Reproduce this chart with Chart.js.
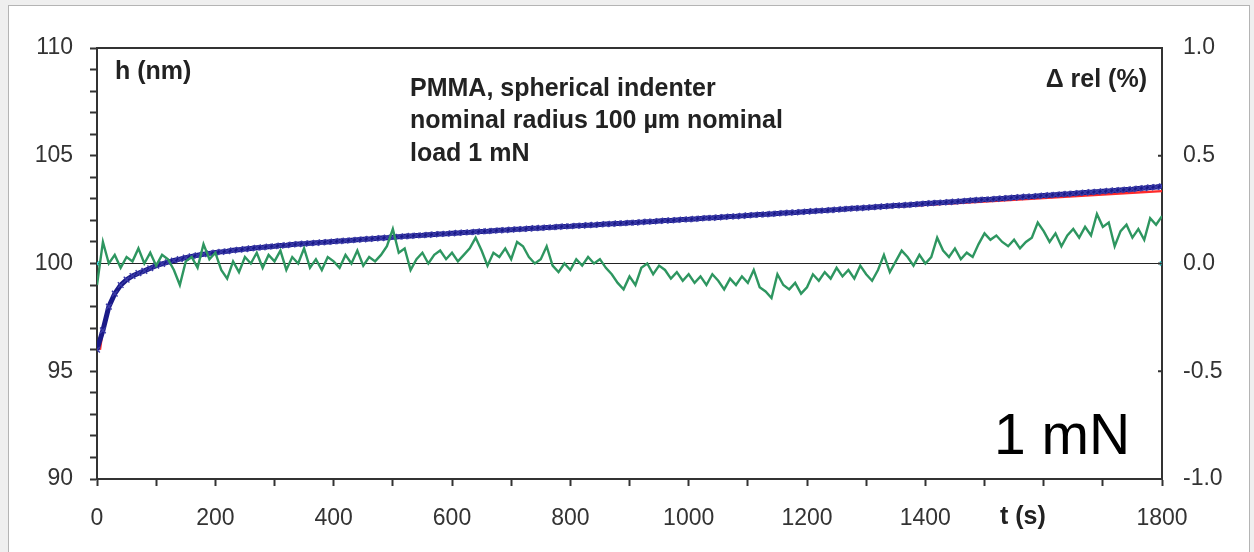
<!DOCTYPE html>
<html>
<head>
<meta charset="utf-8">
<script src="https://cdn.jsdelivr.net/npm/chart.js@4/dist/chart.umd.min.js"></script>
<style>
    body { margin: 0; background: #efefef; }
    #panel { position: absolute; left: 8px; top: 5px; width: 1240px; height: 560px; background: #fff; border: 1px solid #b4b4b4; }
    #wrap { position: absolute; left: 0; top: 0; width: 1254px; height: 552px; }
</style>
</head>
<body>
<div id="panel"></div>
<div id="wrap"><canvas id="creep" width="1254" height="552"></canvas></div>
<script>
// time axis: one reading every 10 s, 0..1800 s
var times = [];
for (let i = 0; i <= 180; i++) times.push(i * 10);

// indentation depth h (nm)
var depth = [
    96.0, 96.9, 98.0, 98.6, 99.0, 99.25, 99.42, 99.55, 99.66, 99.78,
    99.9, 99.98, 100.06, 100.14, 100.2, 100.27, 100.33, 100.38, 100.43, 100.47,
    100.51, 100.54, 100.57, 100.61, 100.64, 100.67, 100.7, 100.73, 100.75, 100.78,
    100.8, 100.83, 100.85, 100.88, 100.9, 100.92, 100.94, 100.96, 100.98, 101.0,
    101.02, 101.04, 101.06, 101.08, 101.1, 101.12, 101.14, 101.16, 101.18, 101.2,
    101.22, 101.24, 101.26, 101.28, 101.3, 101.31, 101.33, 101.35, 101.37, 101.38,
    101.4, 101.42, 101.44, 101.45, 101.47, 101.49, 101.5, 101.52, 101.54, 101.55,
    101.57, 101.59, 101.6, 101.62, 101.64, 101.65, 101.67, 101.68, 101.7, 101.72,
    101.73, 101.75, 101.76, 101.78, 101.79, 101.81, 101.83, 101.84, 101.86, 101.87,
    101.89, 101.9, 101.92, 101.94, 101.95, 101.97, 101.99, 102.0, 102.02, 102.04,
    102.05, 102.07, 102.09, 102.11, 102.12, 102.14, 102.16, 102.18, 102.19, 102.21,
    102.23, 102.25, 102.27, 102.28, 102.3, 102.32, 102.34, 102.36, 102.37, 102.39,
    102.41, 102.43, 102.45, 102.46, 102.48, 102.5, 102.52, 102.54, 102.56, 102.57,
    102.59, 102.61, 102.63, 102.65, 102.67, 102.69, 102.7, 102.72, 102.74, 102.76,
    102.78, 102.8, 102.82, 102.83, 102.85, 102.87, 102.89, 102.91, 102.93, 102.95,
    102.97, 102.98, 103.0, 103.02, 103.04, 103.06, 103.08, 103.1, 103.11, 103.13,
    103.15, 103.17, 103.19, 103.21, 103.23, 103.25, 103.27, 103.29, 103.31, 103.33,
    103.35, 103.37, 103.39, 103.41, 103.43, 103.45, 103.48, 103.5, 103.53, 103.55,
    103.58
];

// fitted curve (red)
var fitTimes = [5, 10, 20, 40, 60, 100, 150, 200, 300, 400, 500, 700, 900, 1100, 1300, 1500, 1700, 1800];
var fitDepth = [96.0, 96.9, 97.95, 98.95, 99.4, 99.9, 100.27, 100.5, 100.8, 101.02, 101.22, 101.58, 101.9, 102.23, 102.56, 102.88, 103.2, 103.36];

// relative deviation (%) on the right axis, green
var relDev = [
    -0.10, 0.10, 0.00, 0.04, -0.02, 0.03, 0.01, 0.07, 0.00, 0.05,
    -0.01, 0.04, 0.02, -0.03, -0.10, 0.01, 0.03, -0.02, 0.09, 0.02,
    0.05, -0.03, -0.07, 0.01, -0.04, 0.03, 0.00, 0.05, -0.02, 0.04,
    0.01, 0.06, -0.03, 0.03, 0.00, 0.07, -0.02, 0.02, -0.03, 0.03,
    0.01, -0.02, 0.04, 0.00, 0.06, -0.01, 0.03, 0.01, 0.04, 0.08,
    0.16, 0.05, 0.07, -0.03, 0.02, 0.05, 0.00, 0.04, 0.06, 0.02,
    0.05, 0.01, 0.04, 0.07, 0.12, 0.06, -0.01, 0.05, 0.03, 0.07,
    0.02, 0.10, 0.08, 0.03, 0.00, 0.02, 0.08, -0.01, -0.04, 0.00,
    -0.03, 0.02, -0.01, 0.03, 0.00, 0.02, -0.02, -0.05, -0.09, -0.12,
    -0.06, -0.10, -0.02, 0.00, -0.05, -0.01, -0.03, -0.07, -0.04, -0.08,
    -0.05, -0.09, -0.06, -0.10, -0.05, -0.08, -0.12, -0.07, -0.10, -0.06,
    -0.09, -0.03, -0.11, -0.13, -0.16, -0.05, -0.10, -0.12, -0.09, -0.14,
    -0.11, -0.05, -0.08, -0.04, -0.07, -0.02, -0.06, -0.03, -0.07, -0.01,
    -0.05, -0.08, -0.03, 0.04, -0.04, 0.01, 0.06, 0.03, -0.01, 0.04,
    0.00, 0.03, 0.12, 0.06, 0.03, 0.07, 0.02, 0.05, 0.03, 0.09,
    0.14, 0.11, 0.13, 0.10, 0.08, 0.11, 0.07, 0.10, 0.12, 0.19,
    0.15, 0.10, 0.14, 0.08, 0.13, 0.16, 0.12, 0.17, 0.13, 0.23,
    0.17, 0.19, 0.08, 0.15, 0.18, 0.12, 0.16, 0.11, 0.21, 0.18,
    0.22
];

var zeroTimes = [0, 1800];
var zeroLine = [0, 0];

var xTicksLabelled = [0, 200, 400, 600, 800, 1000, 1200, 1400, 1800];
var noteLines = ["PMMA, spherical indenter", "nominal radius 100 \u00b5m nominal", "load 1 mN"];

function pairs(xs, ys) {
    var out = [];
    for (let i = 0; i < ys.length; i++) out.push({x: xs[i], y: ys[i]});
    return out;
}

var tickFont = {family: "'Liberation Sans', Arial, sans-serif", size: 23};
var ink = "#333";

// texts, frame and the small inward ticks of the right axis
var decor = {
    id: "decor",
    afterDraw(chart) {
        var ctx = chart.ctx, ca = chart.chartArea;
        var y2 = chart.scales.y2;
        ctx.save();
        ctx.strokeStyle = ink;
        ctx.lineWidth = 2;
        ctx.beginPath();
        ctx.moveTo(ca.left, ca.top);
        ctx.lineTo(ca.right, ca.top);
        ctx.stroke();
        for (let v = -1; v <= 1.001; v += 0.5) {
            var py = y2.getPixelForValue(v);
            ctx.beginPath();
            ctx.moveTo(ca.right - 4, py);
            ctx.lineTo(ca.right, py);
            ctx.stroke();
        }
        ctx.fillStyle = "#222";
        ctx.textBaseline = "middle";
        ctx.font = "bold 25px 'Liberation Sans', Arial, sans-serif";
        ctx.textAlign = "left";
        ctx.fillText("h (nm)", 115, 72);
        for (let i = 0; i < noteLines.length; i++) {
            ctx.fillText(noteLines[i], 410, 89 + i * 32.5);
        }
        ctx.textAlign = "right";
        ctx.fillText("\u0394 rel (%)", 1147, 80);
        ctx.textAlign = "left";
        ctx.fillText("t (s)", 1000, 517);
        ctx.fillStyle = "#000";
        ctx.font = "57px 'Liberation Sans', Arial, sans-serif";
        ctx.fillText("1 mN", 994, 438);
        ctx.restore();
    }
};

var config = {
    type: "line",
    data: {
        datasets: [
            {
                label: "rel",
                data: pairs(times, relDev),
                yAxisID: "y2",
                borderColor: "#2e9660",
                borderWidth: 2.4,
                pointRadius: 0,
                tension: 0
            },
            {
                label: "h",
                data: pairs(times, depth),
                yAxisID: "y",
                borderColor: "#1a1a88",
                borderWidth: 5,
                pointStyle: "crossRot",
                pointRadius: 4,
                pointBorderWidth: 1.4,
                pointBorderColor: "#3a3aa8",
                tension: 0
            },
            {
                label: "fit",
                data: pairs(fitTimes, fitDepth),
                yAxisID: "y",
                borderColor: "#ff2a2a",
                borderWidth: 2.4,
                pointRadius: 0,
                cubicInterpolationMode: "monotone"
            },
            {
                label: "zero",
                data: pairs(zeroTimes, zeroLine),
                yAxisID: "y2",
                borderColor: "#222",
                borderWidth: 1.2,
                pointStyle: "crossRot",
                pointRadius: 3,
                pointBorderColor: "#33dddd",
                pointBorderWidth: 1.5
            }
        ]
    },
    options: {
        responsive: false,
        animation: false,
        layout: { padding: { top: 48, left: 0, right: 0, bottom: 0 } },
        plugins: { legend: { display: false }, tooltip: { enabled: false } },
        scales: {
            x: {
                type: "linear",
                min: 0, max: 1800,
                ticks: {
                    stepSize: 100,
                    autoSkip: false,
                    maxRotation: 0,
                    color: ink,
                    font: tickFont,
                    padding: 19,
                    callback: v => xTicksLabelled.includes(v) ? String(v) : ""
                },
                grid: { drawOnChartArea: false, drawTicks: true, tickLength: 7, tickColor: ink, tickWidth: 2 },
                border: { display: true, color: ink, width: 2 },
                afterFit: s => { s.height = 73; }
            },
            y: {
                position: "left",
                min: 90, max: 110,
                ticks: {
                    stepSize: 1,
                    autoSkip: false,
                    color: ink,
                    font: tickFont,
                    padding: 17,
                    callback: v => v % 5 === 0 ? String(v) : ""
                },
                grid: { drawOnChartArea: false, drawTicks: true, tickLength: 7, tickColor: ink, tickWidth: 2 },
                border: { display: true, color: ink, width: 2 },
                afterFit: s => { s.width = 97; }
            },
            y2: {
                position: "right",
                min: -1, max: 1,
                ticks: {
                    stepSize: 0.5,
                    color: ink,
                    font: tickFont,
                    padding: 21,
                    callback: v => v.toFixed(1)
                },
                grid: { drawOnChartArea: false, drawTicks: false },
                border: { display: true, color: ink, width: 2 },
                afterFit: s => { s.width = 92; }
            }
        }
    },
    plugins: [decor]
};

var chartEl = document.getElementById("creep");
window.creepChart = new Chart(chartEl, config);
</script>
</body>
</html>
